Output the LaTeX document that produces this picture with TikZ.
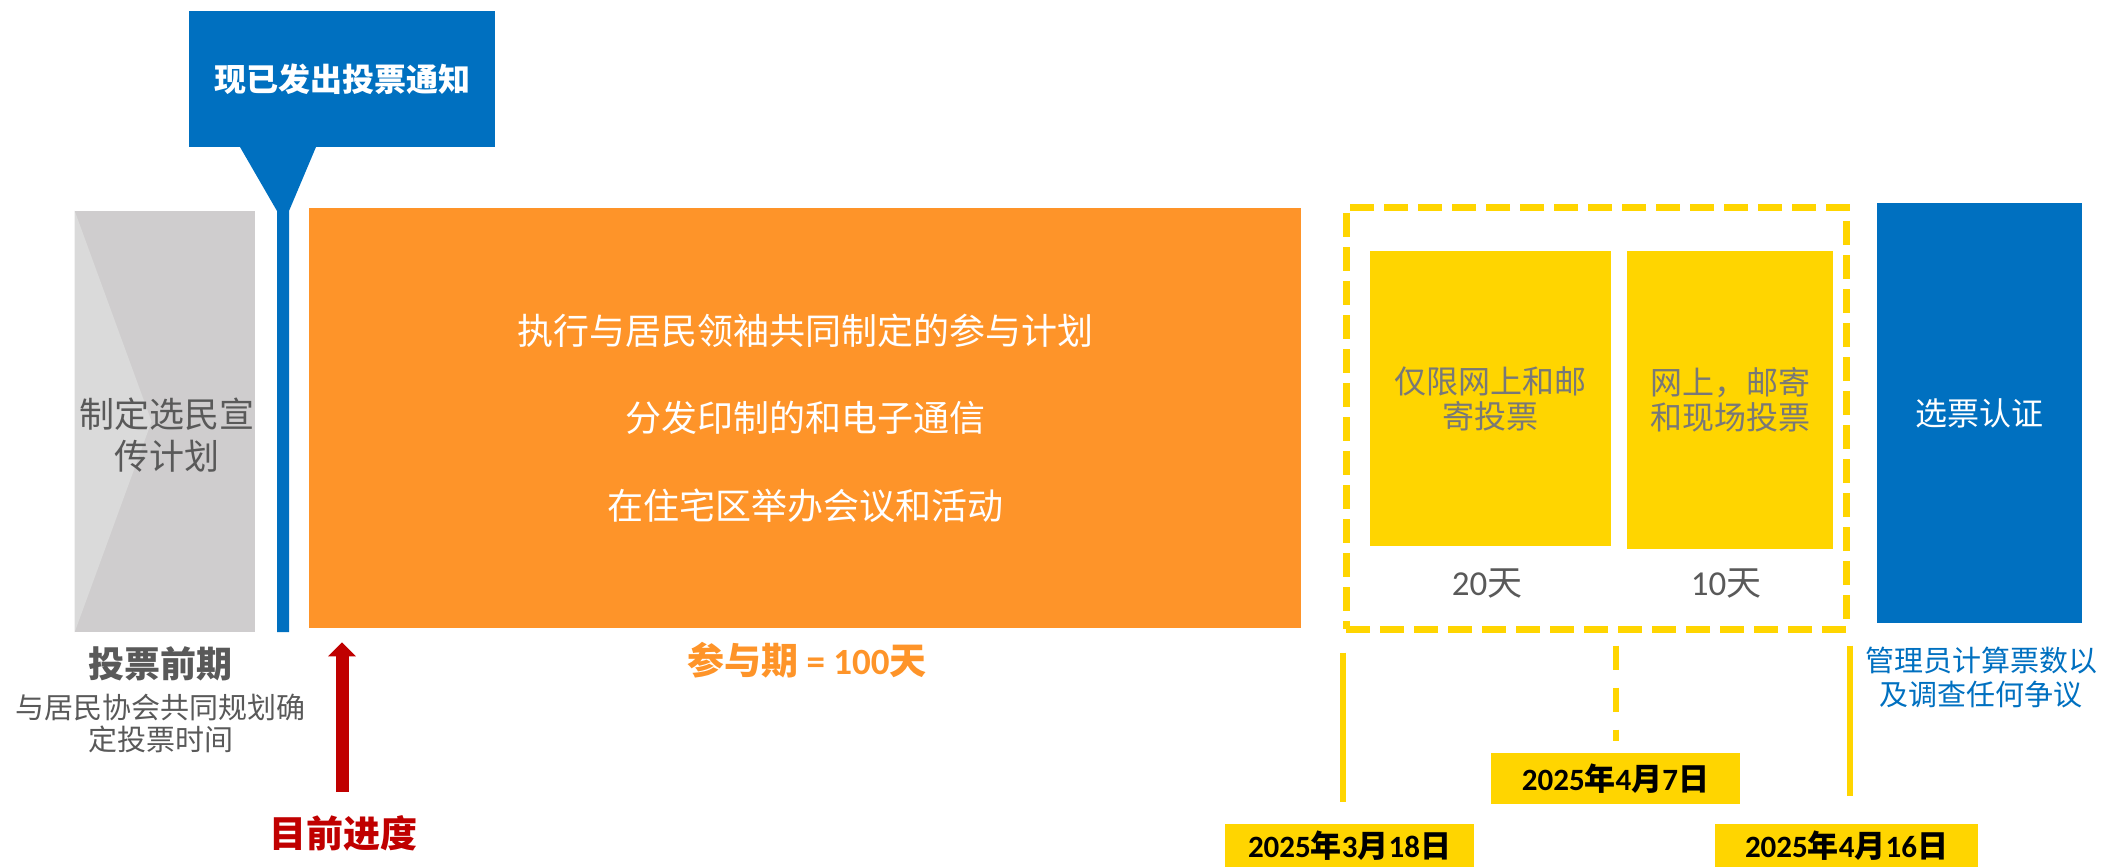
\documentclass[tikz,border=0pt]{standalone}
\usepackage{fontspec}
\usetikzlibrary{arrows.meta}
\setmainfont{Noto Sans CJK SC}
\newfontfamily\calibri{Carlito}
\definecolor{noteblue}{RGB}{0,112,192}
\definecolor{phaseorange}{RGB}{254,148,41}
\definecolor{voteyellow}{RGB}{255,213,0}
\definecolor{prepgrey}{RGB}{207,205,206}
\definecolor{prepgreylight}{RGB}{218,218,218}
\definecolor{darkgreytext}{RGB}{89,89,89}
\definecolor{midgreytext}{RGB}{120,120,120}
\definecolor{nowred}{RGB}{192,0,0}
\newcommand{\ymd}[3]{{\calibri #1}年{\calibri #2}月{\calibri #3}日}

\begin{document}
\begin{tikzpicture}[x=0.5pt,y=0.5pt]
            \tikzstyle{every node}+=[inner sep=0pt]
            \tikzstyle{block}=[rectangle, align=center]
            \tikzstyle{datebox}=[block, fill=voteyellow, font=\bfseries\fontsize{15.5}{17}\selectfont]
            \tikzstyle{votebox}=[block, fill=voteyellow, text=midgreytext, font=\fontsize{16}{17.5}\selectfont]
            \tikzstyle{daylabel}=[text=darkgreytext, font=\calibri\fontsize{17.5}{20}\selectfont]
            \tikzstyle{vline}=[voteyellow, line width=3pt]
            \useasboundingbox (0,0) rectangle (2101,-867);
            % notice callout and its pointer
            \node [block, fill=noteblue, text=white, minimum width=153pt, minimum height=68pt,
                   font=\bfseries\fontsize{16}{18}\selectfont] (notice) at (342,-79) {现已发出投票通知};
            \fill [noteblue] (240,-147) -- (316,-147) -- (289,-211) -- (289,-632) -- (277,-632) -- (277,-211) -- cycle;
            % pre-voting phase
            \node [block, fill=prepgrey, minimum width=90pt, minimum height=210.5pt] (prep) at (165,-421.5) {};
            \fill [prepgreylight] (prep.north west) -- ([xshift=38.5pt]prep.west) -- (prep.south west) -- cycle;
            \node [text=darkgreytext, align=center, font=\fontsize{17.5}{21}\selectfont] (preptext) at (167,-435) {制定选民宣\\传计划};
            \node [text=darkgreytext, font=\bfseries\fontsize{18}{20}\selectfont] (prephead) at (160,-664) {投票前期};
            \node [text=darkgreytext, align=center, font=\fontsize{14.5}{16}\selectfont] (prepnote) at (161,-723) {与居民协会共同规划确\\定投票时间};
            % engagement phase
            \node [block, fill=phaseorange, text=white, minimum width=496pt, minimum height=210pt,
                   font=\fontsize{18}{43.75}\selectfont] (engage) at (805,-418)
                  {执行与居民领袖共同制定的参与计划\\分发印制的和电子通信\\在住宅区举办会议和活动};
            \node [text=phaseorange, font=\bfseries\fontsize{18.5}{20}\selectfont] (engagelen) at (807,-660) {参与期{\calibri{} = 100}天};
            % current progress
            \node [text=nowred, font=\bfseries\fontsize{18.5}{20}\selectfont] (now) at (343,-833) {目前进度};
            \coordinate (nowtail) at (342,-792);
            \draw [nowred, line width=6.5pt, -{Triangle[width=13.5pt,length=7pt]}, shorten >=7pt] (nowtail) -- (engage.south -| nowtail);
            % voting window
            \node [block, draw=voteyellow, line width=3.5pt, dash pattern=on 12pt off 5pt,
                   minimum width=250pt, minimum height=211pt] (window) at (1596,-418) {};
            \node [votebox, minimum width=120.5pt, minimum height=147.5pt] (online) at (1490.5,-398.5) {仅限网上和邮\\寄投票};
            \node [votebox, minimum width=103pt, minimum height=149pt] (onsite) at (1730,-400) {网上，邮寄\\和现场投票};
            \node [daylabel] (onlinedays) at (1487,-584) {20{\rmfamily 天}};
            \node [daylabel] (onsitedays) at (1726,-584) {10{\rmfamily 天}};
            % certification
            \node [block, fill=noteblue, text=white, minimum width=102.5pt, minimum height=210pt,
                   font=\fontsize{16}{18}\selectfont] (certify) at (1979,-413) {选票认证};
            \node [text=noteblue, align=center, font=\fontsize{14.5}{17}\selectfont] (certnote) at (1981,-678) {管理员计算票数以\\及调查任何争议};
            % dates
            \node [datebox, minimum width=124.5pt, minimum height=21.5pt] (start) at (1349.5,-845.5) {\ymd{2025}{3}{18}};
            \node [datebox, minimum width=124.5pt, minimum height=25.5pt] (switch) at (1615.5,-778.5) {\ymd{2025}{4}{7}};
            \node [datebox, minimum width=131.5pt, minimum height=21.5pt] (close) at (1846.5,-845.5) {\ymd{2025}{4}{16}};
            \draw [vline, shorten <=10pt, shorten >=11pt] (window.south west) -- (window.south west |- start.north);
            \draw [vline, dash pattern=on 12pt off 9pt, shorten <=6.5pt, shorten >=6pt] (window.south -| switch.north) -- (switch.north);
            \draw [vline, shorten <=6.5pt, shorten >=14pt] (window.south east) -- (window.south east |- close.north);
\end{tikzpicture}
\end{document}
